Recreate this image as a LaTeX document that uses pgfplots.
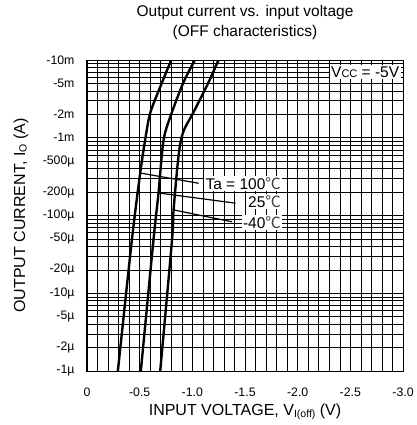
\documentclass[border=0pt]{standalone}
\usepackage{fontspec}
\setmainfont{Liberation Sans}
\newfontfamily\cjkfont{Noto Sans CJK JP}
\usepackage{pgfplots}
\pgfplotsset{compat=1.18}

\newcommand{\degC}{{\cjkfont\color{black!75}℃}}

\begin{document}
\begin{tikzpicture}
\path[use as bounding box] (-87pt,-54pt) rectangle (329pt,371pt);
\begin{axis}[
    at={(0,0)}, anchor=south west,
    scale only axis,
    width=316pt, height=311pt,
    xmin=0, xmax=3,
    ymode=log, ymin=1e-6, ymax=1e-2,
    xtick={0,0.5,1,1.5,2,2.5,3},
    xticklabels={0,-0.5,-1.0,-1.5,-2.0,-2.5,-3.0},
    minor x tick num=4,
    ytick={1e-6,2e-6,5e-6,1e-5,2e-5,5e-5,1e-4,2e-4,5e-4,1e-3,2e-3,5e-3,1e-2},
    yticklabels={-1µ,-2µ,-5µ,-10µ,-20µ,-50µ,-100µ,-200µ,-500µ,-1m,-2m,-5m,-10m},
    minor ytick={3e-6,4e-6,6e-6,7e-6,8e-6,9e-6,
                 3e-5,4e-5,6e-5,7e-5,8e-5,9e-5,
                 3e-4,4e-4,6e-4,7e-4,8e-4,9e-4,
                 3e-3,4e-3,6e-3,7e-3,8e-3,9e-3},
    grid=both,
    major grid style={black, line width=0.6pt},
    minor grid style={black, line width=0.6pt},
    major tick length=0pt, minor tick length=0pt,
    axis line style={black, line width=1pt},
    tick label style={font=\fontsize{12.3}{13}\selectfont},
    xticklabel style={yshift=-13pt},
    yticklabel style={xshift=-9pt},
    title={Output current vs. input voltage\\(OFF characteristics)},
    title style={align=center, font=\fontsize{15.5}{20}\selectfont,
                 at={(0.5,1)}, anchor=south, yshift=11pt},
    xlabel={INPUT VOLTAGE, V\raisebox{-1.5pt}{\fontsize{10.5}{11}\selectfont I(off)} (V)},
    xlabel style={font=\fontsize{16}{18}\selectfont,
                  at={(0.5,0)}, anchor=center, yshift=-41pt},
]
% Ta = 100 C
\addplot[black, line width=2.4pt, smooth, tension=0.5] coordinates {
    (0.293,1e-6) (0.426,4.84e-5) (0.505,3.52e-4) (0.552,9.35e-4)
    (0.600,2.08e-3) (0.695,4.5e-3) (0.800,1e-2)
};
% Ta = 25 C
\addplot[black, line width=2.4pt, smooth, tension=0.5] coordinates {
    (0.511,1e-6) (0.631,4.84e-5) (0.679,1.95e-4) (0.727,9.35e-4)
    (0.807,2.14e-3) (0.917,5.2e-3) (1.024,1e-2)
};
% Ta = -40 C
\addplot[black, line width=2.4pt, smooth, tension=0.5] coordinates {
    (0.695,1e-6) (0.807,4.84e-5) (0.822,1.18e-4) (0.870,6.0e-4)
    (0.914,1.19e-3) (1.012,2.14e-3) (1.155,5.2e-3) (1.248,1e-2)
};
% leader lines
\draw[black, line width=1.2pt] (axis cs:0.505,3.52e-4) -- (axis cs:1.06,2.6e-4);
\draw[black, line width=1.2pt] (axis cs:0.679,1.95e-4) -- (axis cs:1.41,1.44e-4);
\draw[black, line width=1.2pt] (axis cs:0.822,1.18e-4) -- (axis cs:1.378,8.3e-5);
\node[fill=white, inner sep=1.5pt, anchor=east, font=\fontsize{15.5}{16}\selectfont]
    at (axis cs:1.857,2.6e-4) {Ta = 100\degC};
\node[fill=white, inner sep=1.5pt, anchor=east, font=\fontsize{15.5}{16}\selectfont]
    at (axis cs:1.857,1.51e-4) {25\degC};
\node[fill=white, inner sep=1.5pt, anchor=east, font=\fontsize{15.5}{16}\selectfont]
    at (axis cs:1.857,8.07e-5) {-40\degC};
\node[fill=white, inner sep=1.5pt, anchor=east, font=\fontsize{15.5}{16}\selectfont]
    at (axis cs:2.98,7.0e-3) {V{\fontsize{11}{12}\selectfont CC} = -5V};
\end{axis}
\node[rotate=90, font=\fontsize{16}{18}\selectfont] at (-66pt,155.5pt)
    {OUTPUT CURRENT, I\raisebox{-1.5pt}{\fontsize{10.5}{11}\selectfont O} (A)};
\end{tikzpicture}
\end{document}
